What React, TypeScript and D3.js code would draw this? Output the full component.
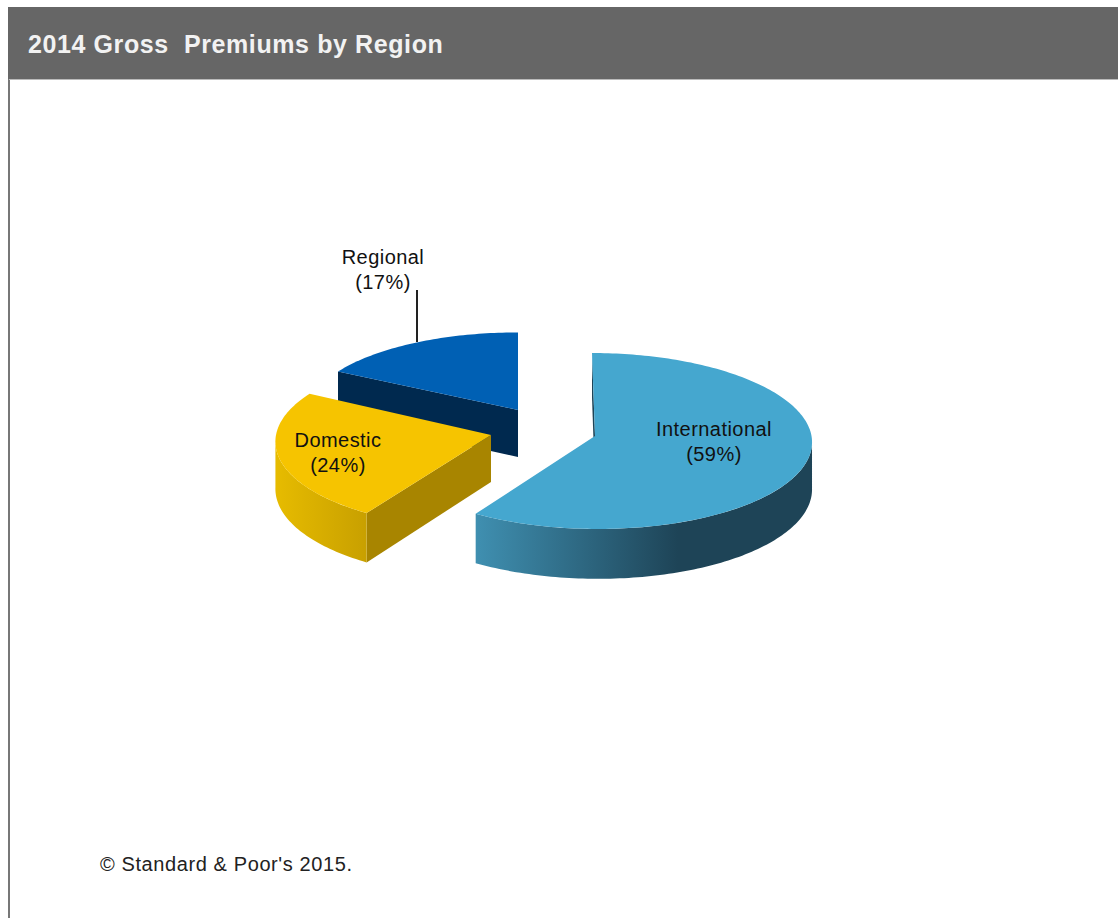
import React from "react";
import * as d3 from "d3";

// Gross premium share by region, in percent.
const regions = ["International", "Domestic", "Regional"];
const shares = [59, 24, 17];
const chartTitle = "2014 Gross  Premiums by Region";
const footnote = "© Standard & Poor's 2015.";

const WIDTH = 1118;
const HEIGHT = 918;
const DEPTH = 47;
const PERSPECTIVE = 0.0568;

// Exploded slice placement: apex on screen, radii of the tilted disc, colours.
const sliceStyles = [
  { ax: 595, ay: 436, rx: 216.5, ry: 87.7, shear: -3, top: "#45a7cf", cut: "#1e4457", wall: [["0%", "#3f8fb0"], ["60%", "#1e4457"], ["100%", "#1e4457"]], x0: 477, x1: 812, label: [714, 436] },
  { ax: 491, ay: 435, rx: 215, ry: 88, shear: 4, top: "#f6c400", cut: "#a88500", wall: [["0%", "#e6bb00"], ["100%", "#c8a000"]], x0: 277, x1: 367, label: [338, 447] },
  { ax: 518, ay: 410, rx: 211, ry: 82, shear: 0, top: "#0060b4", cut: "#00294f", wall: [["0%", "#00294f"], ["100%", "#00294f"]], x0: 338, x1: 518, label: [383, 264] },
];

const slices = d3.pie<number>().sort(null).value((d) => d)(shares);

type Style = (typeof sliceStyles)[number];

// Projects an angle on the rim (clockwise from the far side) onto the screen.
function rim(s: Style, theta: number, drop = 0): [number, number] {
  const X = Math.sin(theta);
  const Y = Math.cos(theta);
  const scale = 1 / (1 + PERSPECTIVE * Y);
  return [s.ax + s.rx * X * scale + s.shear * Y, s.ay - s.ry * Y * scale + drop * scale];
}

function arcAngles(a: number, b: number): number[] {
  const n = Math.max(2, Math.ceil((b - a) / 0.02));
  return d3.range(n + 1).map((i) => a + ((b - a) * i) / n);
}

const toPath = d3.line<[number, number]>().x((p) => p[0]).y((p) => p[1]);

const WALL_FROM = Math.PI / 2 + PERSPECTIVE;
const WALL_TO = (3 * Math.PI) / 2 - PERSPECTIVE;

export default function App() {
  const drawOrder = d3.range(slices.length).reverse();
  return (
    <svg
      width={WIDTH}
      height={HEIGHT}
      viewBox={`0 0 ${WIDTH} ${HEIGHT}`}
      style={{ position: "absolute", left: 0, top: 0, background: "#fff" }}
    >
      <defs>
        {sliceStyles.map((s, i) => (
          <linearGradient key={i} id={`wall-${i}`} gradientUnits="userSpaceOnUse" x1={s.x0} x2={s.x1} y1={0} y2={0}>
            {s.wall.map(([offset, color]) => (
              <stop key={offset} offset={offset} stopColor={color} />
            ))}
          </linearGradient>
        ))}
      </defs>

      {/* panel frame and title bar */}
      <rect x={8} y={79} width={2} height={HEIGHT - 79} fill="#777" />
      <rect x={9} y={79} width={WIDTH - 9} height={1} fill="#bbb" />
      <rect x={8} y={7} width={WIDTH - 8} height={72} fill="#666" />
      <text
        x={28}
        y={53}
        fontFamily="Liberation Sans"
        fontWeight="bold"
        fontSize={25}
        letterSpacing={0.6}
        fill="#f2f2f2"
        style={{ whiteSpace: "pre" }}
      >
        {chartTitle}
      </text>

      {/* leader from the Regional slice up to its label */}
      <line x1={417} x2={417} y1={290} y2={342} stroke="#222" strokeWidth={2} />

      {drawOrder.map((i) => {
        const s = sliceStyles[i];
        const { startAngle, endAngle } = slices[i];
        const apex: [number, number] = [s.ax, s.ay];
        const wallA = Math.max(startAngle, WALL_FROM);
        const wallB = Math.min(endAngle, WALL_TO);
        const tip = rim(s, startAngle);
        const tipLow = rim(s, startAngle, DEPTH);
        const topFace = [apex, ...arcAngles(startAngle, endAngle).map((t) => rim(s, t))];
        const cutFace: [number, number][] = [apex, tip, tipLow, [s.ax, s.ay + DEPTH]];
        const wall =
          wallB > wallA
            ? [
                ...arcAngles(wallA, wallB).map((t) => rim(s, t)),
                ...arcAngles(wallA, wallB).reverse().map((t) => rim(s, t, DEPTH)),
              ]
            : null;
        return (
          <g key={regions[i]}>
            <path d={toPath(cutFace) + "Z"} fill={s.cut} />
            {wall && <path d={toPath(wall) + "Z"} fill={`url(#wall-${i})`} />}
            <path d={toPath(topFace as [number, number][]) + "Z"} fill={s.top} />
          </g>
        );
      })}

      {regions.map((name, i) => {
        const [lx, ly] = sliceStyles[i].label;
        return (
          <text key={name} textAnchor="middle" fontFamily="Liberation Sans" fontSize={20} letterSpacing={0.45} fill="#111">
            <tspan x={lx} y={ly}>{name}</tspan>
            <tspan x={lx} y={ly + 25}>{`(${shares[i]}%)`}</tspan>
          </text>
        );
      })}

      <text x={100} y={871} fontFamily="Liberation Sans" fontSize={20} letterSpacing={0.6} fill="#222">
        {footnote}
      </text>
    </svg>
  );
}
